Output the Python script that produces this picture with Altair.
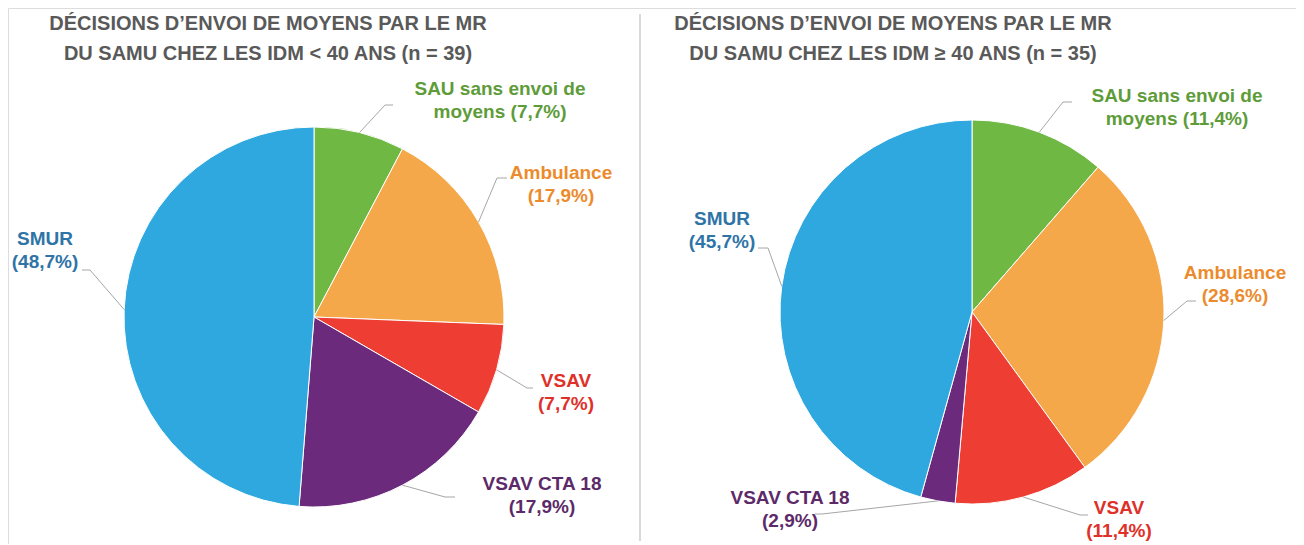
import altair as alt
import pandas as pd
import numpy as np

# ---------------- data ----------------
categories = ["SAU sans envoi de moyens", "Ambulance", "VSAV", "VSAV CTA 18", "SMUR"]
pct_lt40 = [7.7, 17.9, 7.7, 17.9, 48.7]
pct_ge40 = [11.4, 28.6, 11.4, 2.9, 45.7]
title_lt40 = "DÉCISIONS D’ENVOI DE MOYENS PAR LE  MR\nDU SAMU CHEZ LES IDM < 40 ANS (n = 39)"
title_ge40 = "DÉCISIONS D’ENVOI DE MOYENS PAR LE  MR\nDU SAMU CHEZ LES IDM ≥ 40 ANS (n = 35)"

# ---------------- styles ----------------
slice_colors = ["#70B844", "#F5A849", "#EE3D33", "#6B2A7B", "#2EA8DF"]
label_colors = ["#5E9C3A", "#EC8B2D", "#DE3129", "#5C2A68", "#2F74A6"]
title_color = "#595959"
leader_color = "#A6A6A6"

# ---------------- layout (page pixel coordinates) ----------------
W, H = 1288, 536
pies = {
    "lt40": dict(cx=314, cy=317, r=190),
    "ge40": dict(cx=972, cy=312, r=192),
}
# label anchor (center x, first baseline y), leader elbow and end
label_layout = {
    "lt40": [
        dict(x=500, y=95, ex=385, ey=105, tx=393, ty=105),
        dict(x=561, y=179, ex=497, ey=178, tx=507, ty=178),
        dict(x=566, y=387, ex=527, ey=388, tx=533, ty=388),
        dict(x=542, y=490, ex=445, ey=497, tx=455, ty=497),
        dict(x=45, y=245, ex=90, ey=270, tx=82, ty=270),
    ],
    "ge40": [
        dict(x=1177, y=102, ex=1063, ey=102, tx=1072, ty=102),
        dict(x=1235, y=279, ex=1187, ey=301, tx=1196, ty=301),
        dict(x=1119, y=514, ex=1080, ey=515, tx=1088, ty=515),
        dict(x=790, y=504, ex=822, ey=514, tx=815, ty=514),
        dict(x=722, y=225, ex=768, ey=248, tx=758, ty=248),
    ],
}
titles_layout = {"lt40": (268, 30), "ge40": (893, 30)}


def fmt(v):
    return f"({v:.1f}%)".replace(".", ",")


def label_text(cat, v):
    if cat.startswith("SAU"):
        return "SAU sans envoi de\nmoyens " + fmt(v)
    return cat + "\n" + fmt(v)


slices, labels, lines = [], [], []
for g, pct in (("lt40", pct_lt40), ("ge40", pct_ge40)):
    p = pies[g]
    tot = float(np.sum(pct))
    cum = 0.0
    for i, (cat, v) in enumerate(zip(categories, pct)):
        slices.append(dict(group=g, cat=cat, idx=i, pct=v))
        mid = (cum + v / 2) / tot * 2 * np.pi
        cum += v
        lay = label_layout[g][i]
        labels.append(dict(group=g, cat=cat, x=lay["x"], y=lay["y"], text=label_text(cat, v)))
        px = p["cx"] + p["r"] * np.sin(mid)
        py = p["cy"] - p["r"] * np.cos(mid)
        lid = f"{g}-{i}"
        lines += [
            dict(lid=lid, k=0, x=px, y=py),
            dict(lid=lid, k=1, x=lay["ex"], y=lay["ey"]),
            dict(lid=lid, k=2, x=lay["tx"], y=lay["ty"]),
        ]

df_slices = pd.DataFrame(slices)
df_labels = pd.DataFrame(labels)
df_lines = pd.DataFrame(lines)
df_titles = pd.DataFrame([
    dict(x=titles_layout["lt40"][0], y=titles_layout["lt40"][1], text=title_lt40),
    dict(x=titles_layout["ge40"][0], y=titles_layout["ge40"][1], text=title_ge40),
])
df_sep = pd.DataFrame([dict(x=640, y=14, y2=541)])

xs = alt.Scale(domain=[8, 8 + W], nice=False, zero=False)
ys = alt.Scale(domain=[8, 8 + H], nice=False, zero=False, reverse=True)


def X(f):
    return alt.X(f, type="quantitative", scale=xs, axis=None)


def Y(f):
    return alt.Y(f, type="quantitative", scale=ys, axis=None)


layers = []
for g in ("lt40", "ge40"):
    p = pies[g]
    layers.append(
        alt.Chart(df_slices)
        .transform_filter(alt.datum.group == g)
        .mark_arc(outerRadius=p["r"], x=p["cx"] - 8, y=p["cy"] - 8, stroke="white", strokeWidth=1)
        .encode(
            theta=alt.Theta("pct:Q", stack="normalize"),
            color=alt.Color("cat:N", scale=alt.Scale(domain=categories, range=slice_colors), legend=None),
            order=alt.Order("idx:Q"),
        )
    )

sep = alt.Chart(df_sep).mark_rule(color="#D9D9D9", strokeWidth=2).encode(
    x=X("x"), y=Y("y"), y2="y2"
)

leaders = alt.Chart(df_lines).mark_line(color=leader_color, strokeWidth=1).encode(
    x=X("x"), y=Y("y"), detail="lid:N", order="k:Q"
)

label_marks = alt.Chart(df_labels).mark_text(
    font="Liberation Sans", fontWeight="bold", fontSize=19, lineBreak="\n", lineHeight=23,
    align="center", baseline="alphabetic",
).encode(
    x=X("x"), y=Y("y"), text="text:N",
    fill=alt.Fill("cat:N", scale=alt.Scale(domain=categories, range=label_colors), legend=None),
)

title_marks = alt.Chart(df_titles).mark_text(
    font="Liberation Sans", fontWeight="bold",
    fontSize=20, lineBreak="\n", lineHeight=30, align="center", baseline="alphabetic",
    color=title_color,
).encode(x=X("x"), y=Y("y"), text="text:N")

chart = (
    alt.layer(*layers, sep, leaders, label_marks, title_marks)
    .properties(width=W, height=H, padding=0, autosize=alt.AutoSizeParams(type="none"))
    .configure_view(stroke=None)
    .configure(background="white")
)

chart.save("out.html", embed_options={"renderer": "svg", "actions": False})
